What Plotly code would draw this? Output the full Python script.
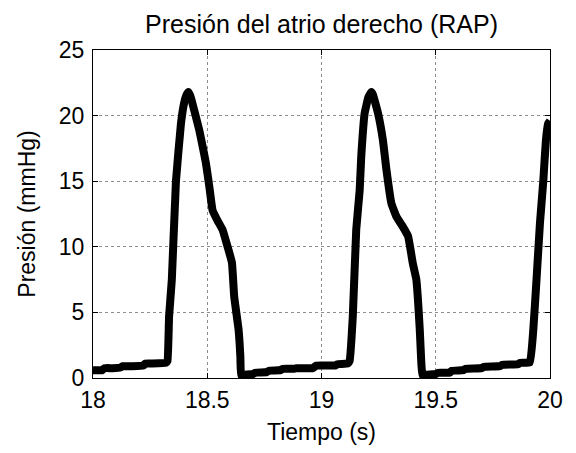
import plotly.graph_objects as go

# Presión del atrio derecho
tiempo = [18.0, 18.04, 18.05, 18.085, 18.12, 18.13, 18.172, 18.22, 18.23, 18.26, 18.318, 18.326,
          18.333, 18.345, 18.363, 18.385, 18.398, 18.41, 18.418, 18.428, 18.443, 18.465, 18.494, 18.509,
          18.523, 18.545, 18.567, 18.589, 18.608, 18.618, 18.637, 18.645, 18.648, 18.66, 18.70,
          18.71, 18.76, 18.77, 18.82, 18.83, 18.88, 18.89, 18.962, 18.977, 19.06, 19.07, 19.115,
          19.123, 19.137, 19.152, 19.167, 19.174, 19.189, 19.205, 19.218, 19.225, 19.247, 19.269,
          19.284, 19.306, 19.328, 19.357, 19.379, 19.400, 19.415, 19.430, 19.437, 19.442, 19.46,
          19.50, 19.51, 19.56, 19.57, 19.62, 19.63, 19.70, 19.71, 19.78, 19.79, 19.86, 19.87,
          19.912, 19.927, 19.941, 19.956, 19.971, 19.982, 19.992, 20.0]
rap = [0.6, 0.6, 0.75, 0.75, 0.8, 0.9, 0.9, 0.95, 1.1, 1.1, 1.15, 1.3,
       4.7, 7.5, 15.0, 19.4, 20.9, 21.6, 21.8, 21.4, 20.4, 18.9, 16.4, 14.6,
       12.8, 12.0, 11.3, 10.0, 8.8, 6.2, 3.7, 1.6, 0.2, 0.25, 0.3,
       0.4, 0.45, 0.55, 0.6, 0.7, 0.7, 0.75, 0.75, 0.95, 0.95, 1.05, 1.1,
       1.3, 4.7, 11.3, 14.3, 16.9, 20.2, 21.4, 21.8, 21.6, 20.2, 18.1,
       15.9, 13.3, 12.3, 11.5, 10.8, 8.7, 7.5, 3.7, 1.1, 0.2, 0.25,
       0.3, 0.4, 0.4, 0.55, 0.6, 0.7, 0.75, 0.85, 0.9, 1.0, 1.05, 1.15,
       1.2, 3.7, 7.5, 11.8, 15.1, 18.1, 19.4, 19.6]

fig = go.Figure(go.Scatter(x=tiempo, y=rap, mode='lines',
                           line=dict(color='black', width=8, shape='spline', smoothing=0.3)))

ejes = dict(showline=True, linecolor='black', linewidth=1, mirror='allticks',
            ticks='inside', ticklen=5, tickcolor='black', automargin=False,
            showgrid=True, gridcolor='#8c8c8c', griddash='dot', gridwidth=1,
            zeroline=False, tickfont=dict(size=23, color='black'))

# la página html tiene 8px de margen en el body, se compensa aquí
fig.update_layout(
    width=576, height=453,
    plot_bgcolor='white', paper_bgcolor='white',
    font=dict(family='Arial, Liberation Sans', color='black'),
    showlegend=False,
    margin=dict(l=85, r=34, t=42, b=83),
    title=dict(text='Presión del atrio derecho (RAP)', x=0.5, xanchor='center',
               xref='paper', y=0.965, yanchor='middle', font=dict(size=25)),
    xaxis=dict(ejes, range=[18, 20], tickvals=[18, 18.5, 19, 19.5, 20], ticklabelstandoff=1,
               title=dict(text='Tiempo (s)', font=dict(size=23), standoff=12)),
    yaxis=dict(ejes, range=[0, 25], tickvals=[0, 5, 10, 15, 20, 25], ticklabelstandoff=3,
               title=dict(text='Presión (mmHg)', font=dict(size=23), standoff=16)),
)

fig.write_html("out.html")
